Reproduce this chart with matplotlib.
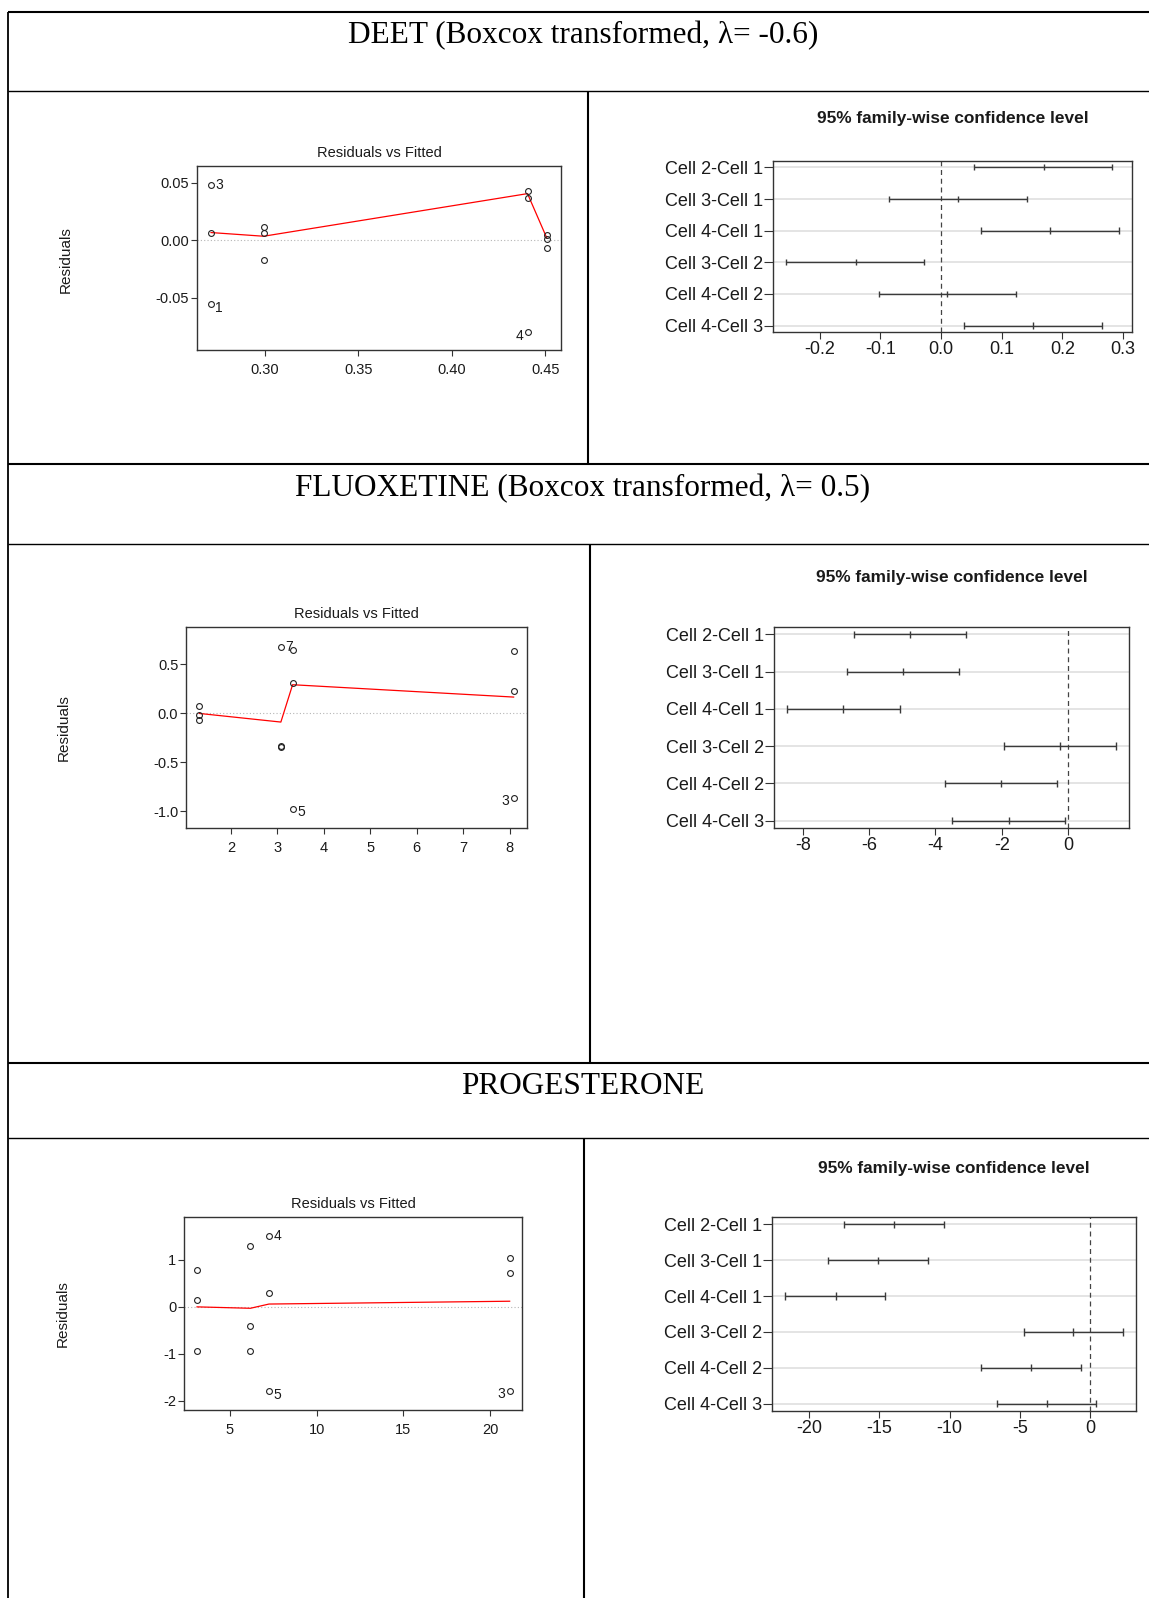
import matplotlib
matplotlib.use("Agg")
import matplotlib.pyplot as plt
import numpy as np

plt.rcParams['font.family'] = ['Liberation Sans', 'DejaVu Sans']
plt.rcParams['axes.unicode_minus'] = False

W, H = 1149, 1598
DPI = 100

# ---------------- data ----------------
section_titles = ["DEET (Boxcox transformed, λ= -0.6)",
                  "FLUOXETINE (Boxcox transformed, λ= 0.5)",
                  "PROGESTERONE"]

comparisons = ["Cell 2-Cell 1", "Cell 3-Cell 1", "Cell 4-Cell 1",
               "Cell 3-Cell 2", "Cell 4-Cell 2", "Cell 4-Cell 3"]

# Residuals vs Fitted -- DEET
deet_fitted = [0.2714, 0.2714, 0.2714, 0.2995, 0.2995, 0.2995,
               0.4405, 0.4405, 0.4405, 0.4508, 0.4508, 0.4508]
deet_resid = [-0.0557, 0.0067, 0.0483, 0.0115, 0.0064, -0.0173,
              0.0425, 0.0370, -0.0800, 0.0049, 0.0014, -0.0067]
deet_smooth_x = [0.2714, 0.2995, 0.4405, 0.4508]
deet_smooth_y = [0.0067, 0.0035, 0.0405, 0.0020]
deet_label_idx = [0, 2, 8]
deet_label_txt = ["1", "3", "4"]
deet_rxticks = [0.30, 0.35, 0.40, 0.45]
deet_rxticklabels = ["0.30", "0.35", "0.40", "0.45"]
deet_ryticks = [-0.05, 0.00, 0.05]
deet_ryticklabels = ["-0.05", "0.00", "0.05"]

# Residuals vs Fitted -- FLUOXETINE
fluox_fitted = [1.317, 1.317, 1.317, 3.074, 3.074, 3.074,
                3.327, 3.327, 3.327, 8.087, 8.087, 8.087]
fluox_resid = [0.079, -0.013, -0.064, 0.677, -0.335, -0.342,
               0.650, 0.310, -0.973, 0.640, 0.225, -0.863]
fluox_smooth_x = [1.317, 3.074, 3.327, 8.087]
fluox_smooth_y = [0.000, -0.088, 0.293, 0.167]
fluox_label_idx = [3, 8, 11]
fluox_label_txt = ["7", "5", "3"]
fluox_rxticks = [2, 3, 4, 5, 6, 7, 8]
fluox_rxticklabels = ["2", "3", "4", "5", "6", "7", "8"]
fluox_ryticks = [-1.0, -0.5, 0.0, 0.5]
fluox_ryticklabels = ["-1.0", "-0.5", "0.0", "0.5"]

# Residuals vs Fitted -- PROGESTERONE
prog_fitted = [3.12, 3.12, 3.12, 6.19, 6.19, 6.19,
               7.26, 7.26, 7.26, 21.11, 21.11, 21.11]
prog_resid = [0.779, 0.142, -0.934, 1.303, -0.403, -0.934,
              1.501, 0.297, -1.790, 1.049, 0.722, -1.783]
prog_smooth_x = [3.12, 6.19, 7.26, 21.11]
prog_smooth_y = [0.00, -0.03, 0.06, 0.12]
prog_label_idx = [6, 8, 11]
prog_label_txt = ["4", "5", "3"]
prog_rxticks = [5, 10, 15, 20]
prog_rxticklabels = ["5", "10", "15", "20"]
prog_ryticks = [-2, -1, 0, 1]
prog_ryticklabels = ["-2", "-1", "0", "1"]

# Tukey HSD intervals
deet_lwr = [0.055, -0.0854, 0.0655, -0.255, -0.1024, 0.038]
deet_diff = [0.170, 0.0275, 0.1795, -0.1404, 0.0094, 0.1525]
deet_upr = [0.282, 0.1415, 0.293, -0.0275, 0.1233, 0.2654]
deet_txticks = [-0.2, -0.1, 0.0, 0.1, 0.2, 0.3]
deet_txticklabels = ["-0.2", "-0.1", "0.0", "0.1", "0.2", "0.3"]

fluox_lwr = [-6.47, -6.68, -8.49, -1.93, -3.71, -3.49]
fluox_diff = [-4.77, -4.99, -6.79, -0.23, -2.02, -1.77]
fluox_upr = [-3.08, -3.29, -5.07, 1.46, -0.33, -0.08]
fluox_txticks = [-8, -6, -4, -2, 0]
fluox_txticklabels = ["-8", "-6", "-4", "-2", "0"]

prog_lwr = [-17.48, -18.62, -21.69, -4.73, -7.74, -6.63]
prog_diff = [-13.94, -15.06, -18.10, -1.19, -4.23, -3.06]
prog_upr = [-10.38, -11.54, -14.58, 2.33, -0.67, 0.43]
prog_txticks = [-20, -15, -10, -5, 0]
prog_txticklabels = ["-20", "-15", "-10", "-5", "0"]

tukey_title = "95% family-wise confidence level"

# ---------------- figure ----------------
fig = plt.figure(figsize=(W / DPI, H / DPI), dpi=DPI)


def ax_px(x0, y0, x1, y1):
    return fig.add_axes([x0 / W, 1 - y1 / H, (x1 - x0) / W, (y1 - y0) / H])


def ftext(x, y, s, **kw):
    return fig.text(x / W, 1 - y / H, s, **kw)


# table grid
bg = fig.add_axes([0, 0, 1, 1], zorder=-10)
bg.set_xlim(0, W)
bg.set_ylim(H, 0)
bg.axis('off')
thick = 1.5
thin = 1.0
for y, lw in [(12, thick), (91, thin), (464, thick), (544, thin), (1063, thick), (1138, thin)]:
    bg.plot([8, W], [y, y], color='black', lw=lw, solid_capstyle='butt')
bg.plot([8, 8], [12, H], color='black', lw=1.3, solid_capstyle='butt')
for x, y0, y1 in [(588, 91, 464), (590, 544, 1063), (584, 1138, H)]:
    bg.plot([x, x], [y0, y1], color='black', lw=thick, solid_capstyle='butt')

# section titles
for s, yb in zip(section_titles, [43, 496, 1094]):
    ftext(583, yb, s, ha='center', va='baseline', fontsize=22.5,
          family=['Liberation Serif', 'DejaVu Serif'], color='black')

TXT = '#1a1a1a'


def style_spines(ax, color='#333333', lw=1.0):
    for sp in ax.spines.values():
        sp.set_color(color)
        sp.set_linewidth(lw)


def resid_plot(box, fitted, resid, sx, sy, lidx, ltxt, xlim, ylim,
               xt, xtl, yt, ytl, ylab_xy):
    ax = ax_px(*box)
    ax.axhline(0, color='#b5b5b5', lw=0.8, ls=(0, (1, 2)), zorder=1)
    ax.plot(sx, sy, color='red', lw=0.9, zorder=2)
    ax.plot(fitted, resid, ls='none', marker='o', mfc='none', mec='#222222',
            ms=4.2, mew=0.8, zorder=3)
    mid = (xlim[0] + xlim[1]) / 2
    for i, t in zip(lidx, ltxt):
        x, y = fitted[i], resid[i]
        right = x < mid
        dy = -2.5 if y < 0 else 0
        ax.annotate(t, (x, y), xytext=(3.2 if right else -3.2, dy),
                    textcoords='offset points', ha='left' if right else 'right',
                    va='center', fontsize=10, color=TXT)
    ax.set_xlim(xlim)
    ax.set_ylim(ylim)
    ax.set_xticks(xt)
    ax.set_xticklabels(xtl, fontsize=10.5, color=TXT)
    ax.set_yticks(yt)
    ax.set_yticklabels(ytl, fontsize=10.5, color=TXT)
    ax.tick_params(axis='x', length=4.5, width=0.8, color='#333333', pad=4.5)
    ax.tick_params(axis='y', length=4.5, width=0.8, color='#333333', pad=1)
    style_spines(ax)
    cx = (box[0] + box[2]) / 2
    ftext(cx, box[1] - 13, "Residuals vs Fitted", ha='center', va='center',
          fontsize=10.5, color=TXT)
    ftext(ylab_xy[0], ylab_xy[1], "Residuals", rotation=90, ha='center',
          va='center', fontsize=11, color=TXT)
    return ax


def tukey_plot(box, lwr, diff, upr, xlim, xt, xtl, title_y):
    ax = ax_px(*box)
    n = len(comparisons)
    yv = np.arange(n, 0, -1)
    for y in yv:
        ax.axhline(y, color='#dcdcdc', lw=1.1, zorder=1)
    ax.axvline(0, color='#444444', lw=0.9, ls=(0, (4, 3)), zorder=2)
    ax.hlines(yv, lwr, upr, color='#3a3a3a', lw=1.0, zorder=3)
    for arr in (lwr, diff, upr):
        ax.vlines(arr, yv - 0.1, yv + 0.1, color='#3a3a3a', lw=1.0, zorder=3)
    ax.set_xlim(xlim)
    ax.set_ylim(0.8, 6.2)
    ax.set_yticks(yv)
    ax.set_yticklabels(comparisons, fontsize=13, color=TXT)
    ax.set_xticks(xt)
    ax.set_xticklabels(xtl, fontsize=13, color=TXT)
    ax.tick_params(axis='y', length=6.5, width=0.8, color='#333333', pad=0.5)
    ax.tick_params(axis='x', length=5, width=0.8, color='#333333', pad=1.5)
    style_spines(ax)
    cx = (box[0] + box[2]) / 2
    ftext(cx, title_y, tukey_title, ha='center', va='center', fontsize=12.4,
          fontweight='bold', color=TXT)
    return ax


resid_plot((197, 166, 561, 350), deet_fitted, deet_resid, deet_smooth_x,
           deet_smooth_y, deet_label_idx, deet_label_txt,
           (0.2639, 0.4584), (-0.0953, 0.0645), deet_rxticks, deet_rxticklabels,
           deet_ryticks, deet_ryticklabels, (66, 260))
resid_plot((186, 627, 527, 828), fluox_fitted, fluox_resid, fluox_smooth_x,
           fluox_smooth_y, fluox_label_idx, fluox_label_txt,
           (1.031, 8.375), (-1.169, 0.882), fluox_rxticks, fluox_rxticklabels,
           fluox_ryticks, fluox_ryticklabels, (64, 728))
resid_plot((184, 1217, 522, 1410), prog_fitted, prog_resid, prog_smooth_x,
           prog_smooth_y, prog_label_idx, prog_label_txt,
           (2.37, 21.82), (-2.193, 1.911), prog_rxticks, prog_rxticklabels,
           prog_ryticks, prog_ryticklabels, (63, 1314))

tukey_plot((773, 161, 1132, 332), deet_lwr, deet_diff, deet_upr,
           (-0.277, 0.315), deet_txticks, deet_txticklabels, 118)
tukey_plot((774, 627, 1129, 828), fluox_lwr, fluox_diff, fluox_upr,
           (-8.87, 1.84), fluox_txticks, fluox_txticklabels, 577)
tukey_plot((772, 1217, 1136, 1411), prog_lwr, prog_diff, prog_upr,
           (-22.64, 3.28), prog_txticks, prog_txticklabels, 1168)

fig.savefig("out.png", dpi=DPI)
